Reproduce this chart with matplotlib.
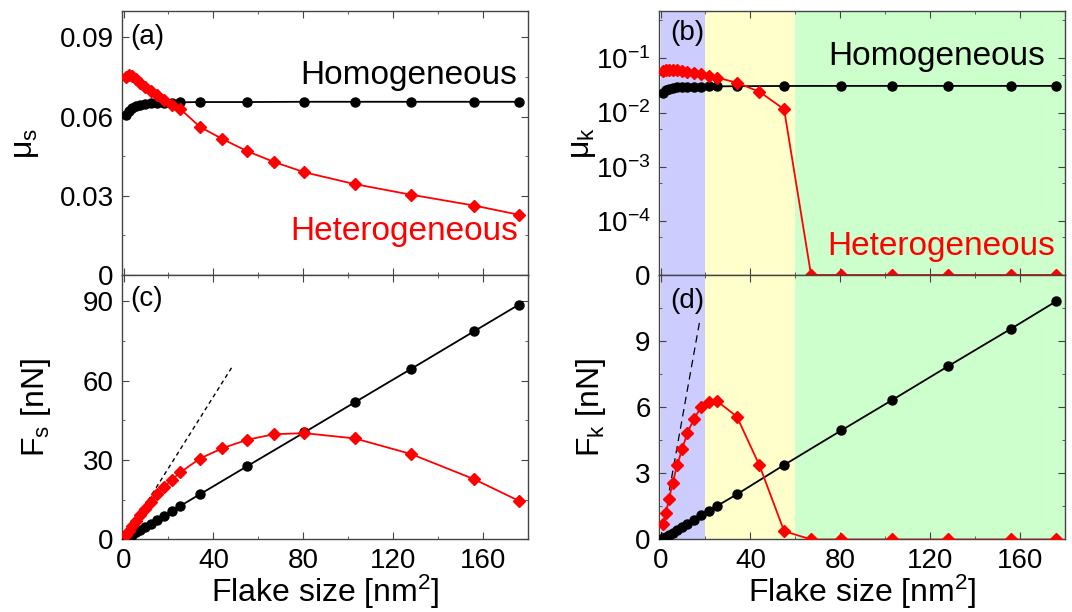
import numpy as np
import matplotlib
matplotlib.use('Agg')
import matplotlib.pyplot as plt
from matplotlib.ticker import MultipleLocator, FixedLocator, FixedFormatter, NullFormatter

plt.rcParams['font.family'] = ['Liberation Sans', 'DejaVu Sans']
plt.rcParams['mathtext.fontset'] = 'custom'
plt.rcParams['mathtext.rm'] = 'Liberation Sans'
plt.rcParams['mathtext.it'] = 'Liberation Sans:italic'

# flake sizes [nm^2]
size_het = [1.2, 2.4, 3.8, 5.4, 7.4, 9.6, 12.0, 14.9, 18.0, 21.5, 25.3,
            34, 44, 55, 67, 80.5, 103, 128, 156, 176]
size_hom = [1.2, 2.4, 3.8, 5.4, 7.4, 9.6, 12.0, 14.9, 18.0, 21.5, 25.3,
            34, 55, 80.5, 103, 128, 156, 176]

# (a) static friction coefficient
mu_s_hom = [0.0606, 0.0620, 0.0632, 0.0640, 0.0645, 0.0648, 0.0650, 0.0651, 0.0652,
            0.0653, 0.0654, 0.0655, 0.0655, 0.0656, 0.0656, 0.0656, 0.0656, 0.0656]
mu_s_het = [0.0748, 0.0757, 0.0752, 0.0742, 0.0727, 0.0712, 0.0697, 0.0680, 0.0663,
            0.0645, 0.0628, 0.0561, 0.0515, 0.0469, 0.0428, 0.0389, 0.0344, 0.0304,
            0.0263, 0.0228]

# (b) kinetic friction coefficient (0 drawn at the bottom of the log axis)
mu_k_hom = [0.0232, 0.0258, 0.0272, 0.0283, 0.0290, 0.0295, 0.0298, 0.0300, 0.0302,
            0.0303, 0.0304, 0.0306, 0.0309, 0.0310, 0.0310, 0.0310, 0.0310, 0.0310]
mu_k_het = [0.058, 0.061, 0.062, 0.061, 0.060, 0.058, 0.056, 0.054, 0.051, 0.048,
            0.044, 0.0355, 0.0242, 0.0115, 0, 0, 0, 0, 0, 0]

# (c) static friction force [nN]
F_s_hom = [0.56, 1.15, 1.85, 2.66, 3.68, 4.8, 6.0, 7.45, 9.05, 10.8, 12.7,
           17.1, 27.7, 40.5, 51.9, 64.5, 78.7, 88.8]
F_s_het = [1.6, 3.2, 5.0, 6.9, 9.2, 11.5, 14.2, 17.1, 19.8, 22.6, 25.4,
           30.6, 34.5, 37.7, 39.8, 40.2, 38.2, 32.3, 22.8, 14.6]

# (d) kinetic friction force [nN]
F_k_hom = [0.06, 0.13, 0.21, 0.31, 0.43, 0.57, 0.71, 0.89, 1.09, 1.30, 1.53,
           2.05, 3.38, 4.95, 6.32, 7.86, 9.56, 10.8]
F_k_het = [0.68, 1.22, 1.85, 2.58, 3.36, 4.10, 4.85, 5.47, 6.00, 6.24, 6.27,
           5.57, 3.37, 0.38, 0, 0, 0, 0, 0, 0]

# linear guides from the origin
guide_s_x = [0, 48.5]
guide_s_y = [0, 65.5]
guide_k_x = [0, 17.6]
guide_k_y = [0, 10.0]

# shaded regimes in (b) and (d)
regions = [(0, 20, '#ccccff'), (20, 60, '#ffffcc'), (60, 180, '#ccffcc')]

LOG_ZERO = 1e-5
spine_col = '#444444'
LABEL_FS = 23
TICK_FS = 20
PANEL_FS = 20


def style(ax):
    ax.tick_params(which='both', direction='in', top=True, right=True,
                   labelsize=TICK_FS, pad=6, color=spine_col)
    ax.tick_params(which='major', length=5)
    ax.tick_params(which='minor', length=2.5)
    for s in ax.spines.values():
        s.set_color(spine_col)
        s.set_linewidth(1.0)
    ax.set_xlim(-0.7, 180)
    ax.xaxis.set_major_locator(MultipleLocator(40))
    ax.xaxis.set_minor_locator(MultipleLocator(20))


def plot_pair(ax, y_hom, y_het):
    ax.plot(size_hom, y_hom, color='black', marker='o', ms=6.5, lw=1.3, zorder=3)
    ax.plot(size_het, y_het, color='red', marker='D', ms=6.5, lw=1.3, zorder=4)


fig = plt.figure(figsize=(10.72, 6.12), dpi=100)
ax_a = fig.add_axes([0.1138, 0.5507, 0.3787, 0.4314])
ax_c = fig.add_axes([0.1138, 0.1185, 0.3787, 0.4322])
ax_b = fig.add_axes([0.6147, 0.5507, 0.3787, 0.4314])
ax_d = fig.add_axes([0.6147, 0.1185, 0.3787, 0.4322])

for ax in (ax_a, ax_b, ax_c, ax_d):
    style(ax)

# (a)
plot_pair(ax_a, mu_s_hom, mu_s_het)
ax_a.set_ylim(0, 0.1)
ax_a.yaxis.set_major_locator(FixedLocator([0, 0.03, 0.06, 0.09]))
ax_a.yaxis.set_major_formatter(FixedFormatter(['0', '0.03', '0.06', '0.09']))
ax_a.yaxis.set_minor_locator(MultipleLocator(0.015))
ax_a.set_xticklabels([])
ax_a.set_ylabel('μ$_\\mathregular{s}$', fontsize=LABEL_FS)
ax_a.yaxis.set_label_coords(-0.20, 0.5)
ax_a.text(127, 0.0757, 'Homogeneous', fontsize=24, ha='center', va='center')
ax_a.text(125, 0.0163, 'Heterogeneous', fontsize=24, ha='center', va='center', color='red')
ax_a.text(0.02, 0.9, '(a)', transform=ax_a.transAxes, fontsize=PANEL_FS, va='center')

# (b)
for x0, x1, col in regions:
    ax_b.axvspan(x0, x1, color=col, lw=0, zorder=0)
ax_b.set_yscale('log')
ax_b.plot(size_hom, mu_k_hom, color='black', marker='o', ms=6.5, lw=1.3, zorder=3)
mu_k_het_plot = np.where(np.array(mu_k_het) > 0, mu_k_het, LOG_ZERO)
ax_b.plot(size_het, mu_k_het_plot, color='red', marker='D', ms=6.5, lw=1.3, zorder=4)
ax_b.set_ylim(LOG_ZERO, 0.75)
ax_b.yaxis.set_major_locator(FixedLocator([1e-5, 1e-4, 1e-3, 1e-2, 1e-1]))
ax_b.yaxis.set_major_formatter(FixedFormatter(['0', '$10^{-4}$', '$10^{-3}$', '$10^{-2}$', '$10^{-1}$']))
ax_b.yaxis.set_minor_locator(FixedLocator([5e-5, 5e-4, 5e-3, 5e-2, 5e-1]))
ax_b.yaxis.set_minor_formatter(NullFormatter())
ax_b.set_xticklabels([])
ax_b.set_ylabel('μ$_\\mathregular{k}$', fontsize=LABEL_FS)
ax_b.yaxis.set_label_coords(-0.15, 0.5)
ax_b.text(123, 0.11, 'Homogeneous', fontsize=24, ha='center', va='center')
ax_b.text(125, 3.3e-5, 'Heterogeneous', fontsize=24, ha='center', va='center', color='red')
ax_b.text(0.027, 0.915, '(b)', transform=ax_b.transAxes, fontsize=PANEL_FS, va='center')

# (c)
plot_pair(ax_c, F_s_hom, F_s_het)
ax_c.plot(guide_s_x, guide_s_y, color='black', lw=1.0, ls=(0, (3, 2.5)), zorder=2)
ax_c.set_ylim(0, 100)
ax_c.yaxis.set_major_locator(FixedLocator([0, 30, 60, 90]))
ax_c.yaxis.set_minor_locator(MultipleLocator(15))
ax_c.set_ylabel('F$_\\mathregular{s}$ [nN]', fontsize=LABEL_FS)
ax_c.yaxis.set_label_coords(-0.17, 0.5)
ax_c.set_xlabel('Flake size [nm$^\\mathregular{2}$]', fontsize=LABEL_FS, labelpad=-1)
ax_c.text(0.02, 0.91, '(c)', transform=ax_c.transAxes, fontsize=PANEL_FS, va='center')

# (d)
for x0, x1, col in regions:
    ax_d.axvspan(x0, x1, color=col, lw=0, zorder=0)
plot_pair(ax_d, F_k_hom, F_k_het)
ax_d.plot(guide_k_x, guide_k_y, color='black', lw=0.9, ls=(0, (6, 4)), zorder=2)
ax_d.set_ylim(0, 12)
ax_d.yaxis.set_major_locator(FixedLocator([0, 3, 6, 9]))
ax_d.yaxis.set_minor_locator(MultipleLocator(1.5))
ax_d.set_ylabel('F$_\\mathregular{k}$ [nN]', fontsize=LABEL_FS)
ax_d.yaxis.set_label_coords(-0.126, 0.5)
ax_d.set_xlabel('Flake size [nm$^\\mathregular{2}$]', fontsize=LABEL_FS, labelpad=-1)
ax_d.text(0.027, 0.90, '(d)', transform=ax_d.transAxes, fontsize=PANEL_FS, va='center')

fig.savefig('out.png', dpi=100)
